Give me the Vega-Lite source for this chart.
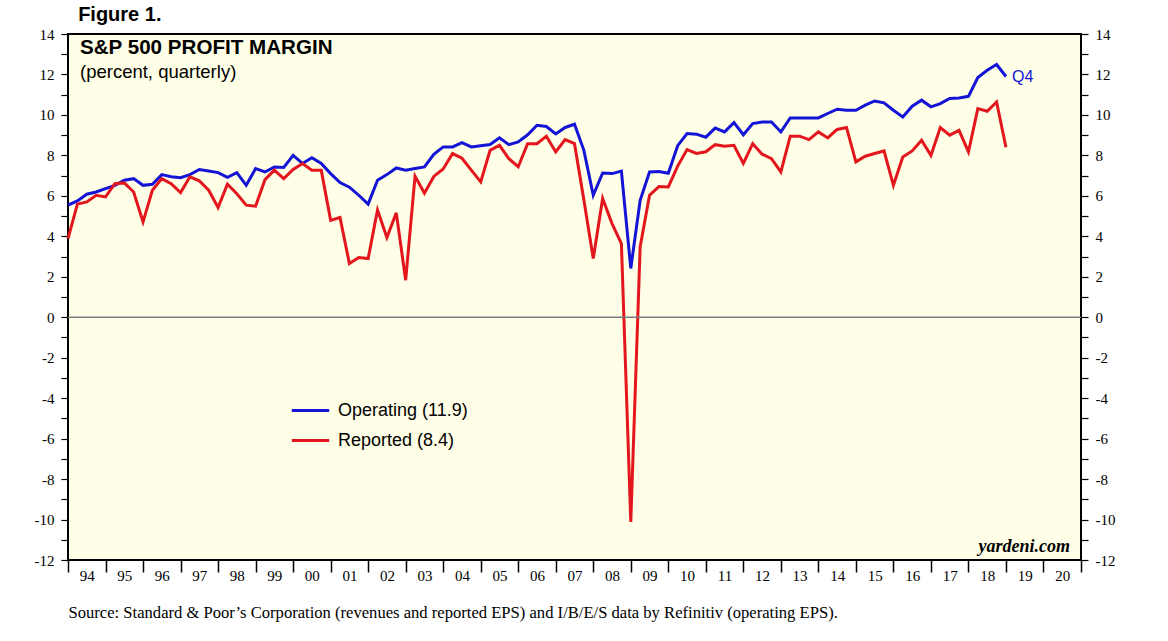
{
  "$schema": "https://vega.github.io/schema/vega-lite/v6.json",
  "width": 1013,
  "height": 526,
  "autosize": {"type": "none"},
  "padding": {"left": 68, "top": 34, "right": 87, "bottom": 81},
  "background": "white",
  "datasets": {
    "margins": [
      {"t": 1994, "Operating": 5.54, "Reported": 3.89},
      {"t": 1994.25, "Operating": 5.75, "Reported": 5.59},
      {"t": 1994.5, "Operating": 6.08, "Reported": 5.7},
      {"t": 1994.75, "Operating": 6.19, "Reported": 6.03},
      {"t": 1995, "Operating": 6.36, "Reported": 5.95},
      {"t": 1995.25, "Operating": 6.52, "Reported": 6.6},
      {"t": 1995.5, "Operating": 6.77, "Reported": 6.64},
      {"t": 1995.75, "Operating": 6.85, "Reported": 6.19},
      {"t": 1996, "Operating": 6.52, "Reported": 4.71},
      {"t": 1996.25, "Operating": 6.57, "Reported": 6.28},
      {"t": 1996.5, "Operating": 7.05, "Reported": 6.85},
      {"t": 1996.75, "Operating": 6.94, "Reported": 6.6},
      {"t": 1997, "Operating": 6.9, "Reported": 6.16},
      {"t": 1997.25, "Operating": 7.05, "Reported": 6.94},
      {"t": 1997.5, "Operating": 7.3, "Reported": 6.74},
      {"t": 1997.75, "Operating": 7.23, "Reported": 6.28},
      {"t": 1998, "Operating": 7.15, "Reported": 5.42},
      {"t": 1998.25, "Operating": 6.92, "Reported": 6.58},
      {"t": 1998.5, "Operating": 7.15, "Reported": 6.1},
      {"t": 1998.75, "Operating": 6.52, "Reported": 5.54},
      {"t": 1999, "Operating": 7.35, "Reported": 5.49},
      {"t": 1999.25, "Operating": 7.18, "Reported": 6.8},
      {"t": 1999.5, "Operating": 7.43, "Reported": 7.27},
      {"t": 1999.75, "Operating": 7.4, "Reported": 6.85},
      {"t": 2000, "Operating": 8.0, "Reported": 7.3},
      {"t": 2000.25, "Operating": 7.6, "Reported": 7.6},
      {"t": 2000.5, "Operating": 7.88, "Reported": 7.27},
      {"t": 2000.75, "Operating": 7.6, "Reported": 7.27},
      {"t": 2001, "Operating": 7.1, "Reported": 4.79},
      {"t": 2001.25, "Operating": 6.66, "Reported": 4.93},
      {"t": 2001.5, "Operating": 6.43, "Reported": 2.65},
      {"t": 2001.75, "Operating": 6.03, "Reported": 2.95},
      {"t": 2002, "Operating": 5.59, "Reported": 2.9},
      {"t": 2002.25, "Operating": 6.77, "Reported": 5.3},
      {"t": 2002.5, "Operating": 7.05, "Reported": 3.94},
      {"t": 2002.75, "Operating": 7.38, "Reported": 5.16},
      {"t": 2003, "Operating": 7.27, "Reported": 1.83},
      {"t": 2003.25, "Operating": 7.35, "Reported": 6.97},
      {"t": 2003.5, "Operating": 7.43, "Reported": 6.13},
      {"t": 2003.75, "Operating": 8.05, "Reported": 6.96},
      {"t": 2004, "Operating": 8.42, "Reported": 7.33},
      {"t": 2004.25, "Operating": 8.42, "Reported": 8.09},
      {"t": 2004.5, "Operating": 8.63, "Reported": 7.86},
      {"t": 2004.75, "Operating": 8.42, "Reported": 7.27},
      {"t": 2005, "Operating": 8.48, "Reported": 6.69},
      {"t": 2005.25, "Operating": 8.54, "Reported": 8.25},
      {"t": 2005.5, "Operating": 8.87, "Reported": 8.5},
      {"t": 2005.75, "Operating": 8.53, "Reported": 7.84},
      {"t": 2006, "Operating": 8.67, "Reported": 7.44},
      {"t": 2006.25, "Operating": 9.02, "Reported": 8.58},
      {"t": 2006.5, "Operating": 9.49, "Reported": 8.58},
      {"t": 2006.75, "Operating": 9.43, "Reported": 8.95},
      {"t": 2007, "Operating": 9.06, "Reported": 8.17},
      {"t": 2007.25, "Operating": 9.38, "Reported": 8.78},
      {"t": 2007.5, "Operating": 9.54, "Reported": 8.58},
      {"t": 2007.75, "Operating": 8.25, "Reported": 5.8},
      {"t": 2008, "Operating": 6.03, "Reported": 2.9},
      {"t": 2008.25, "Operating": 7.13, "Reported": 5.87},
      {"t": 2008.5, "Operating": 7.1, "Reported": 4.63},
      {"t": 2008.75, "Operating": 7.22, "Reported": 3.64},
      {"t": 2009, "Operating": 2.41, "Reported": -10.12},
      {"t": 2009.25, "Operating": 5.78, "Reported": 3.48},
      {"t": 2009.5, "Operating": 7.18, "Reported": 6.03},
      {"t": 2009.75, "Operating": 7.2, "Reported": 6.46},
      {"t": 2010, "Operating": 7.12, "Reported": 6.44},
      {"t": 2010.25, "Operating": 8.48, "Reported": 7.47},
      {"t": 2010.5, "Operating": 9.08, "Reported": 8.29},
      {"t": 2010.75, "Operating": 9.05, "Reported": 8.1},
      {"t": 2011, "Operating": 8.9, "Reported": 8.18},
      {"t": 2011.25, "Operating": 9.35, "Reported": 8.53},
      {"t": 2011.5, "Operating": 9.16, "Reported": 8.45},
      {"t": 2011.75, "Operating": 9.62, "Reported": 8.5},
      {"t": 2012, "Operating": 9.02, "Reported": 7.6},
      {"t": 2012.25, "Operating": 9.57, "Reported": 8.58},
      {"t": 2012.5, "Operating": 9.65, "Reported": 8.06},
      {"t": 2012.75, "Operating": 9.65, "Reported": 7.84},
      {"t": 2013, "Operating": 9.16, "Reported": 7.18},
      {"t": 2013.25, "Operating": 9.85, "Reported": 8.95},
      {"t": 2013.5, "Operating": 9.85, "Reported": 8.95},
      {"t": 2013.75, "Operating": 9.85, "Reported": 8.78},
      {"t": 2014, "Operating": 9.85, "Reported": 9.16},
      {"t": 2014.25, "Operating": 10.07, "Reported": 8.86},
      {"t": 2014.5, "Operating": 10.28, "Reported": 9.28},
      {"t": 2014.75, "Operating": 10.23, "Reported": 9.38},
      {"t": 2015, "Operating": 10.23, "Reported": 7.68},
      {"t": 2015.25, "Operating": 10.48, "Reported": 7.96},
      {"t": 2015.5, "Operating": 10.69, "Reported": 8.09},
      {"t": 2015.75, "Operating": 10.6, "Reported": 8.22},
      {"t": 2016, "Operating": 10.23, "Reported": 6.52},
      {"t": 2016.25, "Operating": 9.9, "Reported": 7.92},
      {"t": 2016.5, "Operating": 10.43, "Reported": 8.22},
      {"t": 2016.75, "Operating": 10.73, "Reported": 8.75},
      {"t": 2017, "Operating": 10.4, "Reported": 8.0},
      {"t": 2017.25, "Operating": 10.56, "Reported": 9.38},
      {"t": 2017.5, "Operating": 10.81, "Reported": 9.0},
      {"t": 2017.75, "Operating": 10.84, "Reported": 9.24},
      {"t": 2018, "Operating": 10.92, "Reported": 8.17},
      {"t": 2018.25, "Operating": 11.85, "Reported": 10.31},
      {"t": 2018.5, "Operating": 12.21, "Reported": 10.18},
      {"t": 2018.75, "Operating": 12.49, "Reported": 10.64},
      {"t": 2019, "Operating": 11.9, "Reported": 8.4}
    ]
  },
  "resolve": {"axis": {"x": "independent", "y": "independent"}},
  "layer": [
    {
      "data": {"name": "margins"},
      "transform": [{"fold": ["Operating", "Reported"], "as": ["key", "value"]}],
      "mark": {"type": "line", "strokeWidth": 3},
      "encoding": {
        "x": {
          "field": "t",
          "type": "quantitative",
          "scale": {"domain": [1994, 2021], "nice": false, "zero": false},
          "axis": {
            "orient": "bottom",
            "values": [1994, 1995, 1996, 1997, 1998, 1999, 2000, 2001, 2002, 2003, 2004, 2005, 2006, 2007, 2008, 2009, 2010, 2011, 2012, 2013, 2014, 2015, 2016, 2017, 2018, 2019, 2020, 2021],
            "labelExpr": "datum.value < 2021 ? substring(toString(datum.value), 2) : ''",
            "labelOffset": 18.76,
            "labelFont": "Liberation Serif", "labelFontSize": 15, "labelColor": "#000",
            "labelPadding": -4, "labelOverlap": false, "labelFlush": false, "labelBound": false,
            "tickSize": 12, "tickColor": "#000", "tickWidth": 1.5,
            "domain": false, "grid": false,
            "title": "Source: Standard & Poor’s Corporation (revenues and reported EPS) and I/B/E/S data by Refinitiv (operating EPS).",
            "titleFont": "Liberation Serif", "titleFontSize": 16.6, "titleFontWeight": "normal", "titleColor": "#000",
            "titleAnchor": "start", "titleAlign": "left", "titleX": 0, "titleY": 57, "titleBaseline": "alphabetic"
          }
        },
        "y": {
          "field": "value",
          "type": "quantitative",
          "scale": {"domain": [-12, 14], "nice": false, "zero": false},
          "axis": {
            "orient": "left",
            "values": [-12, -11, -10, -9, -8, -7, -6, -5, -4, -3, -2, -1, 0, 1, 2, 3, 4, 5, 6, 7, 8, 9, 10, 11, 12, 13, 14],
            "labelExpr": "datum.value % 2 == 0 ? toString(datum.value) : ''",
            "title": null, "domain": false, "grid": false,
            "tickSize": 7, "tickColor": "#000", "tickWidth": 1.2,
            "labelPadding": 7, "labelFont": "Liberation Serif", "labelFontSize": 15, "labelColor": "#000",
            "labelOverlap": false, "labelFlush": false, "labelBound": false
          }
        },
        "color": {
          "field": "key",
          "type": "nominal",
          "scale": {"domain": ["Operating", "Reported"], "range": ["#1414D6", "#E2161C"]},
          "legend": {
            "orient": "none", "legendX": 222, "legendY": 356,
            "title": null, "padding": 0,
            "symbolType": "stroke", "symbolSize": 1400, "symbolStrokeWidth": 3,
            "labelFont": "Liberation Sans", "labelFontSize": 18, "labelColor": "#000",
            "labelOffset": 7, "rowPadding": -7,
            "labelExpr": "datum.label == 'Operating' ? 'Operating (11.9)' : 'Reported (8.4)'"
          }
        }
      }
    },
    {
      "data": {"values": [{}]},
      "mark": {"type": "rule", "color": "#7a7a7a", "strokeWidth": 1.5},
      "encoding": {
        "y": {
          "datum": 0,
          "type": "quantitative",
          "scale": {"domain": [-12, 14], "nice": false, "zero": false},
          "axis": {
            "orient": "right",
            "values": [-12, -11, -10, -9, -8, -7, -6, -5, -4, -3, -2, -1, 0, 1, 2, 3, 4, 5, 6, 7, 8, 9, 10, 11, 12, 13, 14],
            "labelExpr": "datum.value % 2 == 0 ? toString(datum.value) : ''",
            "title": null, "domain": false, "grid": false,
            "tickSize": 7, "tickColor": "#000", "tickWidth": 1.2,
            "labelPadding": 7, "labelFont": "Liberation Serif", "labelFontSize": 15, "labelColor": "#000",
            "labelOverlap": false, "labelFlush": false, "labelBound": false
          }
        }
      }
    },
    {
      "data": {"name": "margins"},
      "transform": [{"filter": "datum.t == 2019"}],
      "mark": {"type": "text", "text": "Q4", "align": "left", "baseline": "middle", "dx": 6, "dy": 1, "font": "Liberation Sans", "fontSize": 16, "color": "#1414D6"},
      "encoding": {
        "x": {"field": "t", "type": "quantitative", "axis": null},
        "y": {"field": "Operating", "type": "quantitative", "axis": null}
      }
    },
    {
      "data": {"values": [{}]},
      "mark": {"type": "text", "text": "Figure 1.", "align": "left", "baseline": "middle", "font": "Liberation Sans", "fontSize": 20, "fontWeight": "bold", "color": "#000"},
      "encoding": {
        "x": {"datum": 1994.27, "type": "quantitative", "axis": null},
        "y": {"datum": 14.93, "type": "quantitative", "axis": null}
      }
    },
    {
      "data": {"values": [{}]},
      "mark": {"type": "text", "text": "S&P 500 PROFIT MARGIN", "align": "left", "baseline": "middle", "font": "Liberation Sans", "fontSize": 20.6, "fontWeight": "bold", "color": "#000"},
      "encoding": {
        "x": {"datum": 1994.32, "type": "quantitative", "axis": null},
        "y": {"datum": 13.3, "type": "quantitative", "axis": null}
      }
    },
    {
      "data": {"values": [{}]},
      "mark": {"type": "text", "text": "(percent, quarterly)", "align": "left", "baseline": "middle", "font": "Liberation Sans", "fontSize": 18.5, "color": "#000"},
      "encoding": {
        "x": {"datum": 1994.32, "type": "quantitative", "axis": null},
        "y": {"datum": 12.1, "type": "quantitative", "axis": null}
      }
    },
    {
      "data": {"values": [{}]},
      "mark": {"type": "text", "text": "yardeni.com", "align": "right", "baseline": "middle", "font": "Liberation Serif", "fontSize": 18, "fontWeight": "bold", "fontStyle": "italic", "color": "#000"},
      "encoding": {
        "x": {"datum": 2020.71, "type": "quantitative", "axis": null},
        "y": {"datum": -11.37, "type": "quantitative", "axis": null}
      }
    }
  ],
  "config": {
    "view": {"stroke": "#000", "strokeWidth": 2, "fill": "#FFFEE6"},
    "font": "Liberation Sans"
  }
}
